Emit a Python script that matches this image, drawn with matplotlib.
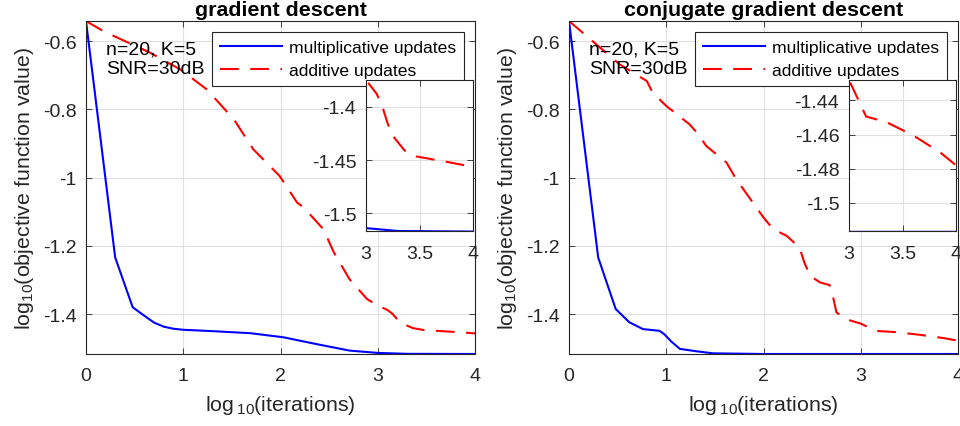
import numpy as np
import matplotlib
matplotlib.use('Agg')
import matplotlib.pyplot as plt

plt.rcParams['font.family'] = ['Liberation Sans', 'DejaVu Sans']
plt.rcParams['mathtext.fontset'] = 'custom'
plt.rcParams['mathtext.rm'] = 'Liberation Sans'
plt.rcParams['mathtext.it'] = 'Liberation Sans'
plt.rcParams['axes.unicode_minus'] = False

# values: x = log10(iterations), y = log10(objective)
gd_mult_x = [0, 0.30, 0.48, 0.60, 0.70, 0.80, 0.90, 1.0, 1.3, 1.69, 2.03, 2.37, 2.71, 3.0, 3.3, 4.0]
gd_mult_y = [-0.541, -1.234, -1.380, -1.405, -1.425, -1.437, -1.443, -1.446, -1.450, -1.456, -1.468,
             -1.488, -1.507, -1.5138, -1.5165, -1.517]
gd_add_x = [0, 0.18, 0.66, 0.97, 1.24, 1.52, 1.72, 1.99, 2.17, 2.24, 2.44, 2.55, 2.71, 2.89, 3.0,
            3.10, 3.15, 3.20, 3.24, 3.36, 3.47, 3.64, 3.75, 3.94, 4.0]
gd_add_y = [-0.541, -0.571, -0.634, -0.683, -0.741, -0.829, -0.917, -0.995, -1.073, -1.088, -1.151,
            -1.220, -1.298, -1.356, -1.375, -1.388, -1.399, -1.415, -1.426, -1.441, -1.4466, -1.4497,
            -1.4516, -1.4553, -1.4565]

cg_mult_x = [0, 0.30, 0.48, 0.62, 0.76, 0.93, 0.98, 1.05, 1.14, 1.31, 1.48, 2.0, 4.0]
cg_mult_y = [-0.541, -1.234, -1.385, -1.424, -1.444, -1.449, -1.459, -1.480, -1.502, -1.509, -1.515,
             -1.517, -1.517]
cg_add_x = [0, 0.18, 0.52, 0.80, 0.86, 1.0, 1.24, 1.33, 1.41, 1.62, 1.72, 1.89, 2.0, 2.10, 2.24,
            2.37, 2.42, 2.48, 2.58, 2.68, 2.72, 2.75, 2.85, 3.0, 3.16, 3.35, 3.60, 3.85, 4.0]
cg_add_y = [-0.541, -0.585, -0.668, -0.717, -0.751, -0.790, -0.844, -0.873, -0.907, -0.956, -1.005,
            -1.073, -1.117, -1.151, -1.171, -1.205, -1.249, -1.288, -1.307, -1.315, -1.356, -1.395,
            -1.415, -1.428, -1.4494, -1.4527, -1.4605, -1.4703, -1.478]

titles = ['gradient descent', 'conjugate gradient descent']
series = [(gd_mult_x, gd_mult_y, gd_add_x, gd_add_y), (cg_mult_x, cg_mult_y, cg_add_x, cg_add_y)]
main_yticks = [-1.4, -1.2, -1, -0.8, -0.6]
inset_yticks = [[-1.5, -1.45, -1.4], [-1.5, -1.48, -1.46, -1.44]]
inset_xticks = [3, 3.5, 4]

W, H = 960, 427
fig = plt.figure(figsize=(W / 100, H / 100), dpi=100)

ax_col = '#262626'
grid_col = '#e0e0e0'
blue = '#0000ff'
red = '#ff0000'
tick_fs = 14
label_fs = 15.4


def style(ax, xpad, ypad):
    for s in ax.spines.values():
        s.set_color(ax_col)
        s.set_linewidth(0.8)
    ax.tick_params(direction='in', length=4, width=0.6, colors=ax_col, labelsize=tick_fs,
                   top=True, right=True)
    ax.tick_params(axis='x', pad=xpad)
    ax.tick_params(axis='y', pad=ypad)
    ax.grid(True, color=grid_col, linewidth=0.8)
    ax.set_axisbelow(True)


def fmt_label(v):
    return '%g' % v


main_lefts = [86, 569]
inset_lefts = [366, 849]
for i in range(2):
    mx, my, ax_, ay = series[i]
    ax = fig.add_axes([main_lefts[i] / W, (H - 355) / H, 389 / W, 333 / H])
    style(ax, 9.5, 6.5)
    ax.plot(mx, my, color=blue, lw=1.5, label='multiplicative updates')
    ax.plot(ax_, ay, color=red, lw=1.5, dashes=(9, 5.5), label='additive updates')
    ax.set_xlim(0, 4)
    ax.set_ylim(-1.517, -0.541)
    ax.set_xticks([0, 1, 2, 3, 4])
    ax.set_yticks(main_yticks)
    ax.set_yticklabels([fmt_label(v) for v in main_yticks])
    ax.set_xlabel(r'log$\,_{10}$(iterations)', fontsize=label_fs, color=ax_col, labelpad=6)
    ax.set_ylabel(r'log$_{10}$(objective function value)', fontsize=label_fs, color=ax_col,
                  labelpad=5)
    ax.set_title(titles[i], fontsize=label_fs, fontweight='bold', pad=4)
    ax.text(0.052, 0.94, 'n=20, K=5\nSNR=30dB', fontsize=14, va='top', ha='left',
            linespacing=1.15, transform=ax.transAxes)
    leg = ax.legend(loc='upper right', bbox_to_anchor=(0.972, 0.966), fontsize=12.6,
                    handlelength=3.55, handletextpad=0.4, borderpad=0.45, labelspacing=0.4,
                    fancybox=False, framealpha=1, edgecolor=ax_col, borderaxespad=0)
    leg.get_frame().set_linewidth(0.8)

    ins = fig.add_axes([inset_lefts[i] / W, (H - 232) / H, 107 / W, 151 / H])
    style(ins, 10, 7)
    ins.plot(mx, my, color=blue, lw=1.5)
    ins.plot(ax_, ay, color=red, lw=1.5, dashes=(9, 5.5))
    ins.set_xlim(3, 4)
    ins.set_ylim(-1.5165, ay[[k for k in range(len(ax_)) if ax_[k] >= 3][0]])
    ins.set_xticks(inset_xticks)
    ins.set_xticklabels([fmt_label(v) for v in inset_xticks])
    ins.set_yticks(inset_yticks[i])
    ins.set_yticklabels([fmt_label(v) for v in inset_yticks[i]])

fig.savefig('out.png', dpi=100)
